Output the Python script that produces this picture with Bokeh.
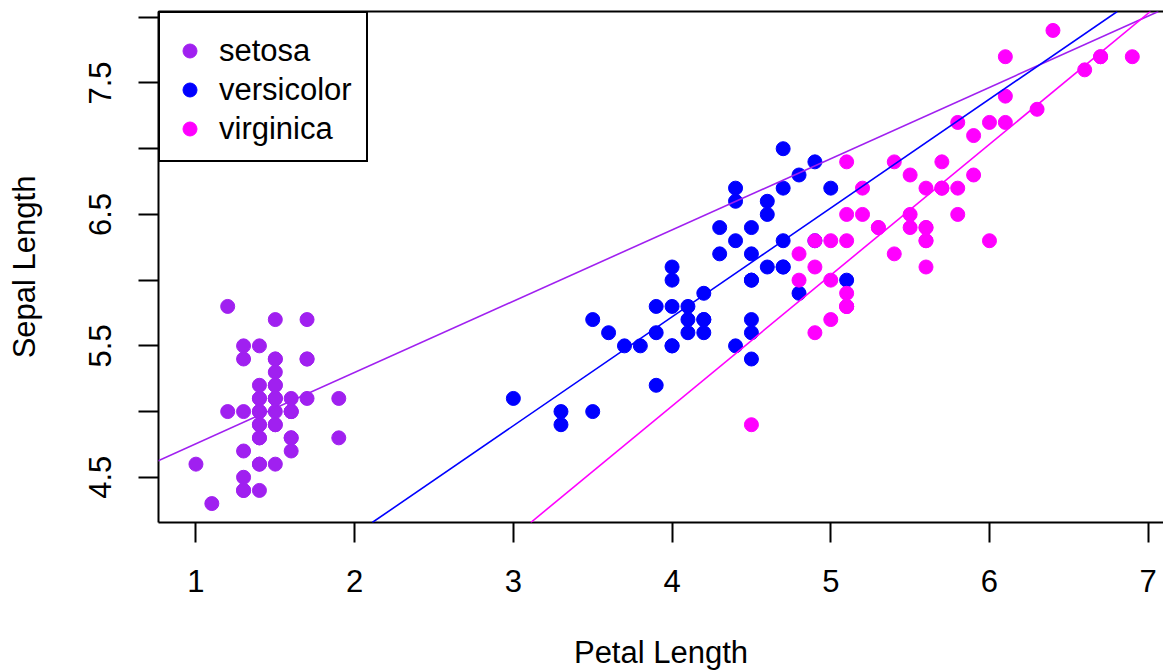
import numpy as np
from bokeh.plotting import figure
from bokeh.models import Range1d, FixedTicker, LinearAxis, Slope, CustomJSTickFormatter
from bokeh.embed import file_html
from bokeh.resources import INLINE

species = ["setosa", "versicolor", "virginica"]
colors = ["#A020F0", "#0000FF", "#FF00FF"]

setosa_petal = [1.4, 1.4, 1.3, 1.5, 1.4, 1.7, 1.4, 1.5, 1.4, 1.5, 1.5, 1.6, 1.4, 1.1, 1.2, 1.5, 1.3, 1.4, 1.7, 1.5,
                1.7, 1.5, 1.0, 1.7, 1.9, 1.6, 1.6, 1.5, 1.4, 1.6, 1.6, 1.5, 1.5, 1.4, 1.5, 1.2, 1.3, 1.4, 1.3, 1.5,
                1.3, 1.3, 1.3, 1.6, 1.9, 1.4, 1.6, 1.4, 1.5, 1.4]
setosa_sepal = [5.1, 4.9, 4.7, 4.6, 5.0, 5.4, 4.6, 5.0, 4.4, 4.9, 5.4, 4.8, 4.8, 4.3, 5.8, 5.7, 5.4, 5.1, 5.7, 5.1,
                5.4, 5.1, 4.6, 5.1, 4.8, 5.0, 5.0, 5.2, 5.2, 4.7, 4.8, 5.4, 5.2, 5.5, 4.9, 5.0, 5.5, 4.9, 4.4, 5.1,
                5.0, 4.5, 4.4, 5.0, 5.1, 4.8, 5.1, 4.6, 5.3, 5.0]
versicolor_petal = [4.7, 4.5, 4.9, 4.0, 4.6, 4.5, 4.7, 3.3, 4.6, 3.9, 3.5, 4.2, 4.0, 4.7, 3.6, 4.4, 4.5, 4.1, 4.5, 3.9,
                    4.8, 4.0, 4.9, 4.7, 4.3, 4.4, 4.8, 5.0, 4.5, 3.5, 3.8, 3.7, 3.9, 5.1, 4.5, 4.5, 4.7, 4.4, 4.1, 4.0,
                    4.4, 4.6, 4.0, 3.3, 4.2, 4.2, 4.2, 4.3, 3.0, 4.1]
versicolor_sepal = [7.0, 6.4, 6.9, 5.5, 6.5, 5.7, 6.3, 4.9, 6.6, 5.2, 5.0, 5.9, 6.0, 6.1, 5.6, 6.7, 5.6, 5.8, 6.2, 5.6,
                    5.9, 6.1, 6.3, 6.1, 6.4, 6.6, 6.8, 6.7, 6.0, 5.7, 5.5, 5.5, 5.8, 6.0, 5.4, 6.0, 6.7, 6.3, 5.6, 5.5,
                    5.5, 6.1, 5.8, 5.0, 5.6, 5.7, 5.7, 6.2, 5.1, 5.7]
virginica_petal = [6.0, 5.1, 5.9, 5.6, 5.8, 6.6, 4.5, 6.3, 5.8, 6.1, 5.1, 5.3, 5.5, 5.0, 5.1, 5.3, 5.5, 6.7, 6.9, 5.0,
                   5.7, 4.9, 6.7, 4.9, 5.7, 6.0, 4.8, 4.9, 5.6, 5.8, 6.1, 6.4, 5.6, 5.1, 5.6, 6.1, 5.6, 5.5, 4.8, 5.4,
                   5.6, 5.1, 5.1, 5.9, 5.7, 5.2, 5.0, 5.2, 5.4, 5.1]
virginica_sepal = [6.3, 5.8, 7.1, 6.3, 6.5, 7.6, 4.9, 7.3, 6.7, 7.2, 6.5, 6.4, 6.8, 5.7, 5.8, 6.4, 6.5, 7.7, 7.7, 6.0,
                   6.9, 5.6, 7.7, 6.3, 6.7, 7.2, 6.2, 6.1, 6.4, 7.2, 7.4, 7.9, 6.4, 6.3, 6.1, 7.7, 6.3, 6.4, 6.0, 6.9,
                   6.7, 6.9, 5.8, 6.8, 6.7, 6.7, 6.3, 6.5, 6.2, 5.9]

x_ticks = [1, 2, 3, 4, 5, 6, 7]
y_ticks = [4.5, 5.0, 5.5, 6.0, 6.5, 7.0, 7.5, 8.0]
y_tick_labels = ["4.5", "", "5.5", "", "6.5", "", "7.5", ""]

FONT = "Liberation Sans"
FS = "31px"

p = figure(width=1163, height=672, x_range=Range1d(0.764, 7.0965), y_range=Range1d(4.156, 8.044),
           x_axis_type=None, y_axis_type=None, output_backend="svg", toolbar_location=None,
           min_border_left=158, min_border_right=0, min_border_top=11, min_border_bottom=150)
p.outline_line_color = None
p.background_fill_color = "white"
p.border_fill_color = "white"

def style_axis(ax):
    ax.axis_line_color = "black"
    ax.axis_line_width = 2
    ax.major_tick_line_color = "black"
    ax.major_tick_line_width = 2
    ax.major_tick_out = 20
    ax.major_tick_in = 0
    ax.minor_tick_line_color = None
    ax.major_label_text_font = FONT
    ax.major_label_text_font_size = FS
    ax.major_label_text_color = "black"
    ax.axis_label_text_font = FONT
    ax.axis_label_text_font_size = FS
    ax.axis_label_text_font_style = "normal"
    ax.axis_label_text_color = "black"

xaxis = LinearAxis(ticker=FixedTicker(ticks=x_ticks), axis_label="Petal Length")
style_axis(xaxis)
xaxis.major_label_standoff = 27
xaxis.axis_label_standoff = 40
p.add_layout(xaxis, "below")

yaxis = LinearAxis(ticker=FixedTicker(ticks=y_ticks), axis_label="Sepal Length",
                   formatter=CustomJSTickFormatter(args=dict(labels=y_tick_labels), code="return labels[index];"))
style_axis(yaxis)
yaxis.major_label_orientation = "vertical"
yaxis.major_label_standoff = 27
yaxis.axis_label_standoff = 45
p.add_layout(yaxis, "left")

top = LinearAxis(ticker=FixedTicker(ticks=[]), axis_label=None)
style_axis(top)
top.major_tick_out = 0
top.major_label_standoff = 0
top.major_label_text_font_size = "0px"
p.add_layout(top, "above")

data = [(setosa_petal, setosa_sepal), (versicolor_petal, versicolor_sepal), (virginica_petal, virginica_sepal)]
for name, col, (px, sy) in zip(species, colors, data):
    p.scatter(px, sy, size=14, color=col, line_color=col, legend_label=name)

for col, (px, sy) in zip(colors, data):
    m, b = np.polyfit(px, sy, 1)
    p.add_layout(Slope(gradient=float(m), y_intercept=float(b), line_color=col, line_width=1.6))

lg = p.legend[0]
lg.location = "top_left"
lg.margin = 0
lg.padding = 12
lg.spacing = 0
lg.title = " "
lg.title_text_font_size = "6px"
lg.title_standoff = 0
lg.border_line_color = "black"
lg.border_line_alpha = 1
lg.border_line_width = 2
lg.background_fill_color = "white"
lg.background_fill_alpha = 1
lg.glyph_width = 35
lg.glyph_height = 39
lg.label_height = 39
lg.label_width = 135
lg.label_standoff = 12
lg.label_text_font = FONT
lg.label_text_font_size = FS
lg.label_text_color = "black"

open("out.html", "w").write(file_html(p, INLINE))
